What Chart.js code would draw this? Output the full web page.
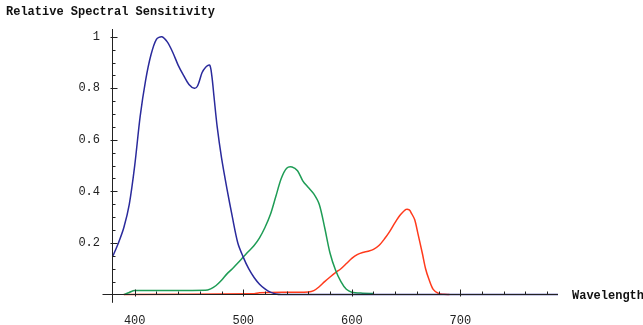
<!DOCTYPE html>
<html>
<head>
<meta charset="utf-8">
<script src="https://cdn.jsdelivr.net/npm/chart.js@4.4.1/dist/chart.umd.min.js"></script>
<style>
  html, body { margin: 0; padding: 0; background: #fff; }
  #wrap { width: 643px; height: 325px; position: relative; }
</style>
</head>
<body>
<div id="wrap"><canvas id="chart"></canvas></div>
<script>
// blue (S) cone
const blueNm  = [380, 385, 390, 395, 400, 405, 410, 415, 420, 425, 430, 435, 440, 445, 450, 455, 458, 462, 465, 469, 471, 473, 476, 480, 485, 490, 495, 500, 505, 510, 515, 520, 525, 530, 535, 790];
const blueVal = [0.15, 0.20, 0.26, 0.35, 0.50, 0.69, 0.83, 0.93, 0.99, 1.00, 0.98, 0.94, 0.89, 0.85, 0.815, 0.80, 0.81, 0.86, 0.88, 0.89, 0.85, 0.77, 0.65, 0.53, 0.41, 0.30, 0.20, 0.145, 0.10, 0.066, 0.04, 0.022, 0.009, 0.002, 0, 0];

// green (M) cone
const greenNm  = [390, 395, 400, 465, 470, 475, 480, 485, 490, 495, 500, 505, 510, 515, 520, 525, 530, 535, 540, 545, 550, 555, 560, 565, 570, 575, 580, 585, 590, 595, 600, 610, 620];
const greenVal = [0, 0.008, 0.015, 0.016, 0.022, 0.035, 0.055, 0.08, 0.10, 0.122, 0.145, 0.168, 0.19, 0.22, 0.26, 0.31, 0.38, 0.45, 0.49, 0.495, 0.48, 0.44, 0.415, 0.39, 0.35, 0.26, 0.16, 0.095, 0.05, 0.02, 0.009, 0.005, 0.004];

// red (L) cone
const redNm  = [390, 510, 515, 560, 565, 570, 575, 580, 585, 590, 595, 600, 605, 610, 615, 620, 625, 630, 635, 640, 645, 650, 653, 655, 658, 661, 665, 668, 671, 675, 680, 685, 690];
const redVal = [0, 0.003, 0.007, 0.01, 0.015, 0.03, 0.05, 0.068, 0.085, 0.10, 0.12, 0.14, 0.155, 0.163, 0.168, 0.175, 0.19, 0.215, 0.245, 0.28, 0.31, 0.33, 0.328, 0.315, 0.29, 0.235, 0.16, 0.10, 0.06, 0.02, 0.004, 0.001, 0];

const xTickLabels = [400, 500, 600, 700];
const yTickLabels = [0.2, 0.4, 0.6, 0.8, 1];

const FONT = 'Liberation Mono';
const pts = (xs, ys) => xs.map((x, i) => ({ x: x, y: ys[i] }));

// axis lines and inward tick marks, Mathematica style
const mmaAxes = {
    id: 'mmaAxes',
    afterDatasetsDraw(chart) {
        const { ctx, scales: { x, y } } = chart;
        const x0 = Math.round(x.getPixelForValue(380)) - 0.5;
        const y0 = Math.round(y.getPixelForValue(0)) + 0.5;
        ctx.save();
        ctx.strokeStyle = '#222';
        ctx.lineWidth = 1;
        ctx.beginPath();
        ctx.moveTo(x0, y.top);
        ctx.lineTo(x0, y.bottom - 2);
        ctx.moveTo(x0 - 10, y0);
        ctx.lineTo(x.right, y0);
        // y ticks
        for (let v = 0.05; v <= 1.001; v += 0.05) {
            const py = Math.round(y.getPixelForValue(v)) + 0.5;
            const major = Math.abs(v * 5 - Math.round(v * 5)) < 1e-6;
            ctx.moveTo(x0 - (major ? 2 : 0), py);
            ctx.lineTo(x0 + (major ? 5 : 3), py);
        }
        // x ticks
        for (let v = 400; v <= 780; v += 20) {
            const px = Math.round(x.getPixelForValue(v)) + 0.5;
            const major = v % 100 === 0;
            ctx.moveTo(px, y0 - (major ? 5 : 3));
            ctx.lineTo(px, y0 + (major ? 2 : 0));
        }
        ctx.stroke();

        ctx.fillStyle = '#111';
        ctx.font = 'bold 12px "' + FONT + '"';
        ctx.textBaseline = 'middle';
        ctx.textAlign = 'left';
        ctx.fillText('Relative Spectral Sensitivity', 6, 12);
        ctx.fillText('Wavelength', x.right + 14, y0 + 1);
        ctx.restore();
    }
};

new Chart(document.getElementById('chart'), {
    type: 'line',
    data: {
        datasets: [{
            label: 'S',
            data: pts(blueNm, blueVal),
            borderColor: '#2a2a9c',
        }, {
            label: 'M',
            data: pts(greenNm, greenVal),
            borderColor: '#1e9c55',
        }, {
            label: 'L',
            data: pts(redNm, redVal),
            borderColor: '#ff3a1c',
        }]
    },
    options: {
        responsive: true,
        maintainAspectRatio: false,
        animation: false,
        layout: { padding: { left: 0, right: 85, top: 29, bottom: 8 } },
        elements: {
            line: { borderWidth: 1.5, tension: 0.3, fill: false },
            point: { radius: 0 }
        },
        plugins: {
            legend: { display: false },
            tooltip: { enabled: false }
        },
        scales: {
            x: {
                type: 'linear',
                min: 380,
                max: 790,
                position: { y: 0 },
                afterBuildTicks: (s) => { s.ticks = xTickLabels.map(v => ({ value: v })); },
                grid: { display: false },
                border: { display: false },
                ticks: {
                    color: '#222',
                    padding: 11,
                    maxRotation: 0,
                    font: { family: FONT, size: 12 }
                }
            },
            y: {
                type: 'linear',
                min: -0.04,
                max: 1.03,
                position: 'left',
                afterFit: (s) => { s.width = 113; },
                afterBuildTicks: (s) => { s.ticks = yTickLabels.map(v => ({ value: v })); },
                grid: { display: false, drawTicks: false },
                border: { display: false },
                ticks: {
                    color: '#222',
                    padding: 13,
                    font: { family: FONT, size: 12 },
                    callback: (v) => v === 1 ? '1' : v.toFixed(1)
                }
            }
        }
    },
    plugins: [mmaAxes]
});
</script>
</body>
</html>
